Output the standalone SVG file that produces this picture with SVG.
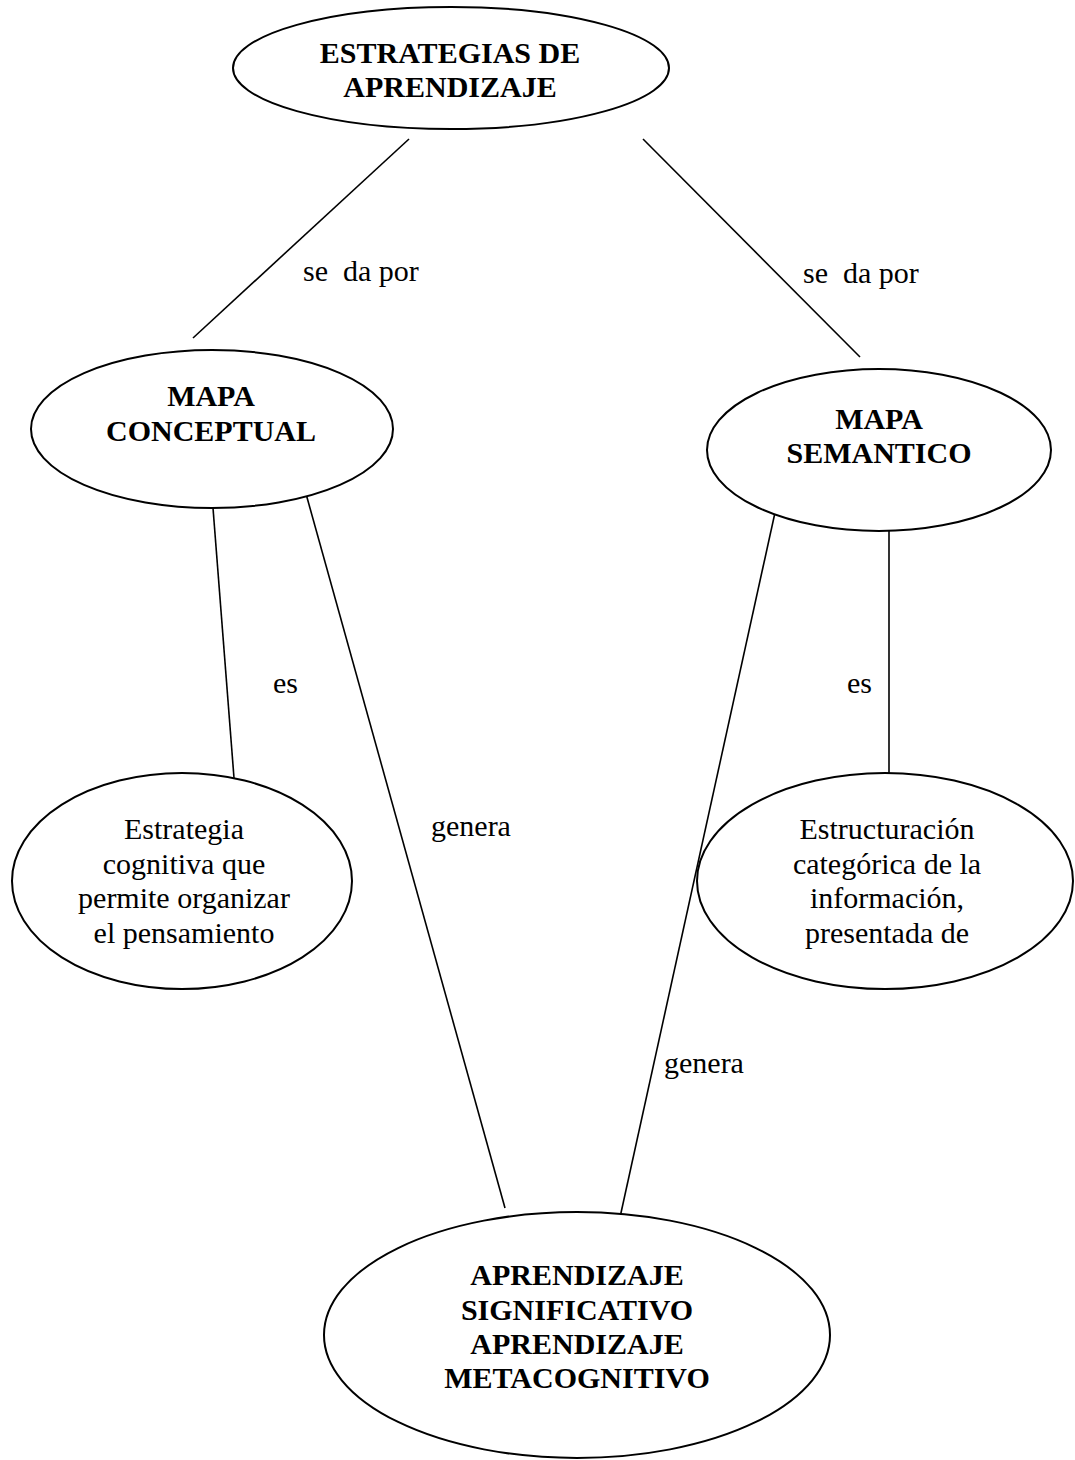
<svg xmlns="http://www.w3.org/2000/svg" width="1075" height="1460" viewBox="0 0 1075 1460">
  <style>
    .node ellipse { fill: #ffffff; stroke: #000000; stroke-width: 2; }
    .title { font-family: "Liberation Serif", "Times New Roman", serif; font-size: 30px; font-weight: bold; fill: #000000; text-anchor: middle; }
    .body { font-family: "Liberation Serif", "Times New Roman", serif; font-size: 30px; fill: #000000; text-anchor: middle; }
    .label { font-family: "Liberation Serif", "Times New Roman", serif; font-size: 30px; fill: #000000; white-space: pre; }
    .edges line { stroke: #000000; stroke-width: 1.6; }
  </style>
  <rect x="0" y="0" width="1075" height="1460" fill="#ffffff"/>

  <!-- connectors -->
  <g id="connectors" class="edges">
    <line x1="409" y1="139" x2="193" y2="338"/>
    <line x1="643" y1="139" x2="860" y2="357"/>
    <line x1="213" y1="508" x2="234" y2="778"/>
    <line x1="303" y1="483" x2="505" y2="1208"/>
    <line x1="889" y1="531" x2="889" y2="778"/>
    <line x1="776" y1="508" x2="617" y2="1231"/>
  </g>

  <!-- connector labels -->
  <g id="labels">
    <text class="label" x="303" y="281" xml:space="preserve">se  da por</text>
    <text class="label" x="803" y="283" xml:space="preserve">se  da por</text>
    <text class="label" x="273" y="693">es</text>
    <text class="label" x="847" y="693">es</text>
    <text class="label" x="431" y="836">genera</text>
    <text class="label" x="664" y="1073">genera</text>
  </g>

  <g id="estrategias" class="node">
    <ellipse cx="451" cy="68" rx="218" ry="61"/>
    <text class="title" x="450" y="63">ESTRATEGIAS DE</text>
    <text class="title" x="450" y="97">APRENDIZAJE</text>
  </g>

  <g id="mapa-conceptual" class="node">
    <ellipse cx="212" cy="429" rx="181" ry="79"/>
    <text class="title" x="211" y="406">MAPA</text>
    <text class="title" x="211" y="441">CONCEPTUAL</text>
  </g>

  <g id="mapa-semantico" class="node">
    <ellipse cx="879" cy="450" rx="172" ry="81"/>
    <text class="title" x="879" y="429">MAPA</text>
    <text class="title" x="879" y="463">SEMANTICO</text>
  </g>

  <g id="estrategia-cognitiva" class="node">
    <ellipse cx="182" cy="881" rx="170" ry="108"/>
    <text class="body" x="184" y="839">Estrategia</text>
    <text class="body" x="184" y="874">cognitiva que</text>
    <text class="body" x="184" y="908">permite organizar</text>
    <text class="body" x="184" y="943">el pensamiento</text>
  </g>

  <g id="estructuracion" class="node">
    <ellipse cx="885" cy="881" rx="188" ry="108"/>
    <text class="body" x="887" y="839">Estructuración</text>
    <text class="body" x="887" y="874">categórica de la</text>
    <text class="body" x="887" y="908">información,</text>
    <text class="body" x="887" y="943">presentada de</text>
  </g>

  <g id="aprendizaje" class="node">
    <ellipse cx="577" cy="1335" rx="253" ry="123"/>
    <text class="title" x="577" y="1285">APRENDIZAJE</text>
    <text class="title" x="577" y="1320">SIGNIFICATIVO</text>
    <text class="title" x="577" y="1354">APRENDIZAJE</text>
    <text class="title" x="577" y="1388">METACOGNITIVO</text>
  </g>
</svg>
